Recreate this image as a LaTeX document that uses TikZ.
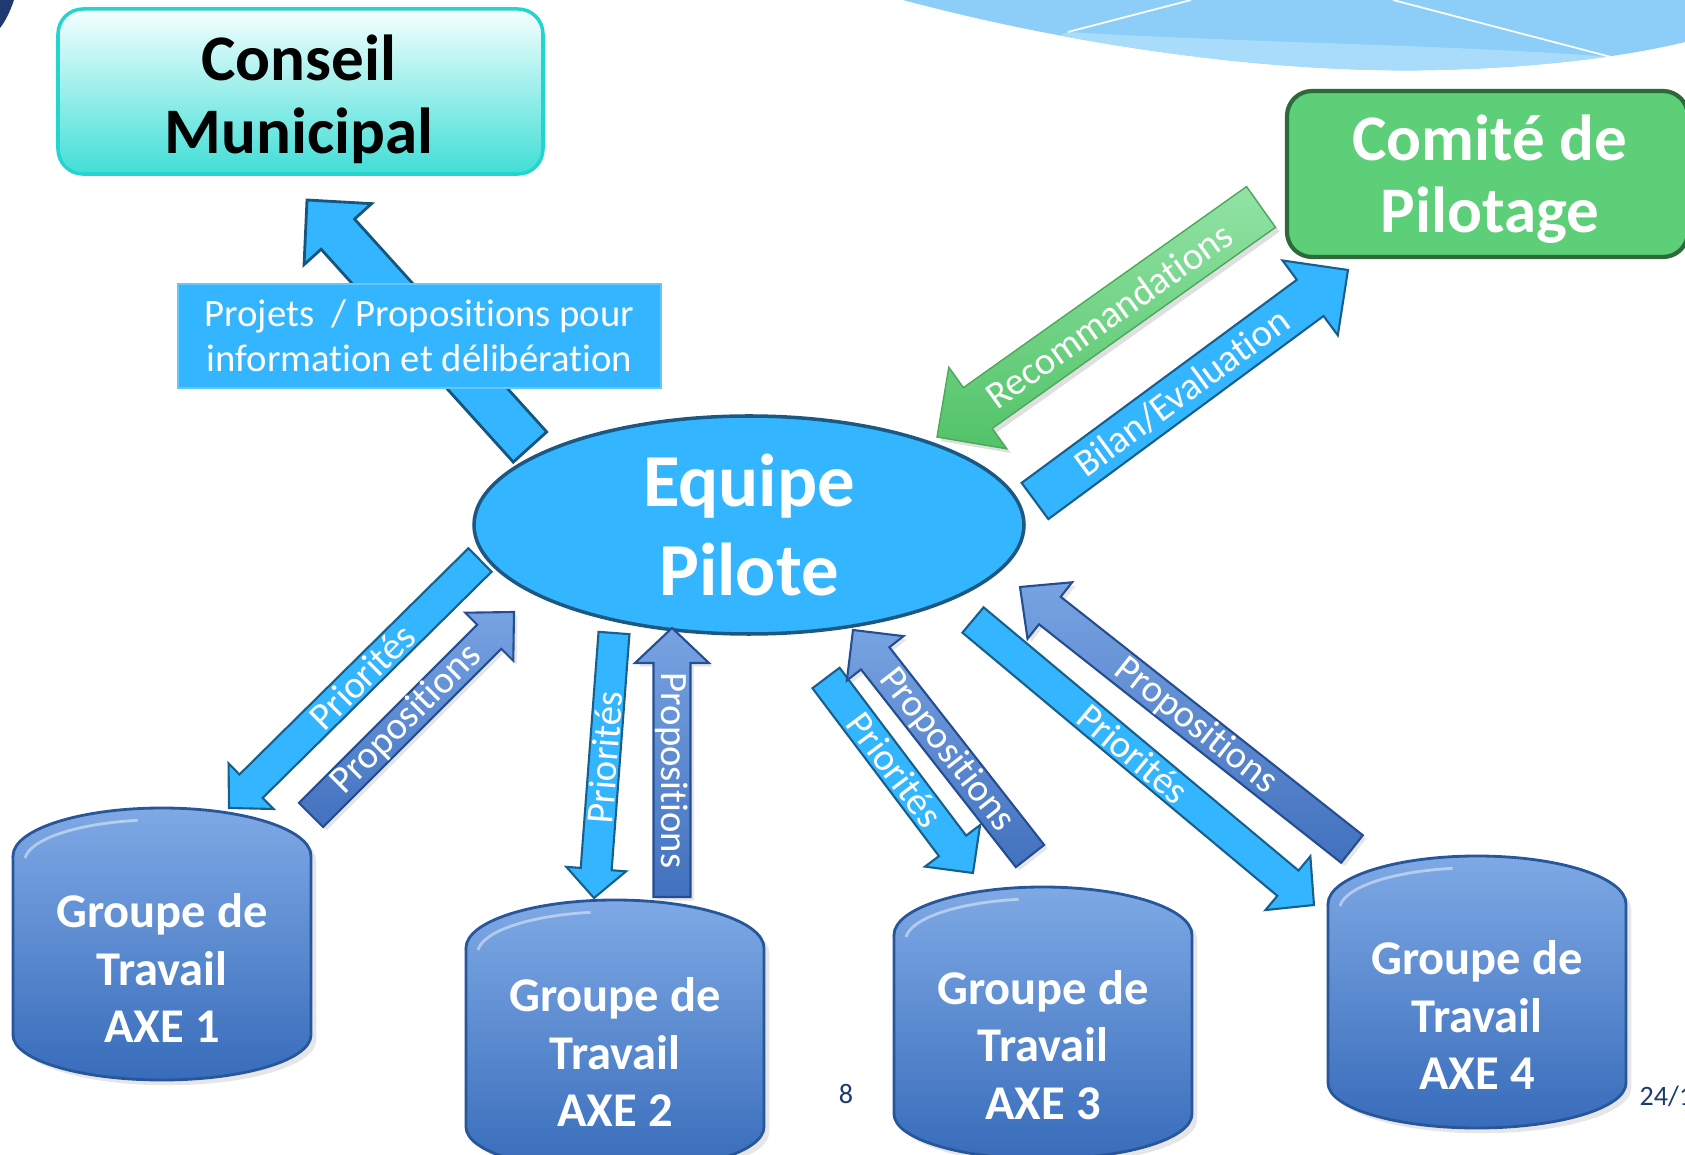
\documentclass[tikz,border=0pt]{standalone}
\usepackage{fontspec}
\setmainfont{Carlito}[Ligatures=NoCommon]
\usetikzlibrary{calc,shapes.geometric,shadows}

\definecolor{skyfill}{RGB}{51,181,255}
\definecolor{skyline}{RGB}{25,95,140}
\definecolor{proptop}{RGB}{120,163,226}
\definecolor{propbot}{RGB}{66,113,190}
\definecolor{propline}{RGB}{36,78,145}
\definecolor{recotop}{RGB}{146,227,165}
\definecolor{recobot}{RGB}{82,195,104}
\definecolor{recoline}{RGB}{78,168,92}
\definecolor{cyltop}{RGB}{126,169,229}
\definecolor{cylbot}{RGB}{56,108,186}
\definecolor{cylline}{RGB}{40,86,155}
\definecolor{cmtop}{RGB}{245,255,255}
\definecolor{cmbot}{RGB}{64,222,214}
\definecolor{cmline}{RGB}{36,212,206}
\definecolor{copfill}{RGB}{93,207,121}
\definecolor{copline}{RGB}{46,105,57}
\definecolor{ellline}{RGB}{28,88,130}
\definecolor{navy}{RGB}{30,58,110}
\definecolor{swoosh}{RGB}{140,206,247}
\definecolor{swooshlight}{RGB}{168,220,250}
\definecolor{labelline}{RGB}{100,200,255}

\begin{document}
\begin{tikzpicture}[
  lightarrow/.style={fill=skyfill, draw=skyline, line width=0.6pt},
  darkarrow/.style={top color=proptop, bottom color=propbot, draw=propline, line width=0.6pt,
    drop shadow={opacity=0.2, shadow xshift=1pt, shadow yshift=-1pt}},
  greenarrow/.style={top color=recotop, bottom color=recobot, draw=recoline, line width=0.4pt,
    drop shadow={opacity=0.25, shadow xshift=1.2pt, shadow yshift=-1.2pt}},
  arrowtext/.style={text=white, font=\fontsize{11}{12}\selectfont, inner sep=0pt},
  cyl/.style={top color=cyltop, bottom color=cylbot, draw=cylline, line width=0.8pt,
    drop shadow={opacity=0.2, shadow xshift=1.5pt, shadow yshift=-1.5pt}},
  grouptext/.style={text=white, align=center, inner sep=0pt, font=\bfseries\fontsize{13.8}{16.3}\selectfont}
]
\useasboundingbox (0,0) rectangle (16.85,-11.55);

% decoration of the slide
\begin{scope}
\clip (9.03,0) .. controls (10.6,-0.42) and (12.6,-0.74) .. (14.36,-0.70) .. controls (15.3,-0.68) and (16.2,-0.58) .. (16.85,-0.42) -- (16.85,0) -- cycle;
\fill[swoosh] (9,0) rectangle (16.85,-1);
\fill[swooshlight] (10.68,-0.32) .. controls (12.3,-0.42) and (14.6,-0.45) .. (16.11,-0.57) -- (16.85,-1) -- (9,-1) -- cycle;
\end{scope}
\draw[white, line width=0.5pt] (10.68,-0.32) -- (11.91,0);
\draw[white, line width=0.5pt] (13.93,0) -- (16.11,-0.57);
\fill[navy] (0,0) -- (0.14,0) .. controls (0.1,-0.12) and (0.05,-0.22) .. (0,-0.28) -- cycle;

% boxes
\node[draw=cmline, top color=cmtop, bottom color=cmbot, line width=1pt, rounded corners=0.25cm,
  minimum width=4.85cm, minimum height=1.65cm] (conseil) at (3.005,-0.915) {};
\node[align=center, inner sep=0pt, font=\bfseries\fontsize{18.5}{20.8}\selectfont] (conseil-t) at (2.99,-0.99) {Conseil\\Municipal};

\node[draw=copline, fill=copfill, line width=1.2pt, rounded corners=0.25cm,
  minimum width=4.01cm, minimum height=1.66cm] (comite) at (14.875,-1.74) {};
\node[align=center, inner sep=0pt, text=white, font=\bfseries\fontsize{18.5}{20.6}\selectfont] (comite-t) at (14.90,-1.79) {Comité de\\Pilotage};

\node[ellipse, fill=skyfill, draw=ellline, line width=1pt, minimum width=5.5cm, minimum height=2.18cm,
  inner sep=0pt, align=center, text=white, font=\bfseries\fontsize{21.3}{25.6}\selectfont] (equipe) at (7.49,-5.25) {Equipe\\Pilote};

% groupes de travail
\foreach \i/\xl/\yt/\ty in {1/0.13/8.08/9.68, 2/4.66/9.00/10.52, 3/8.94/8.87/10.45, 4/13.28/8.56/10.15}{
  \filldraw[cyl] (\xl,-\yt-0.48) -- (\xl,-\yt-2.27) arc[start angle=180, end angle=360, x radius=1.49, y radius=0.45]
    -- (\xl+2.98,-\yt-0.48) arc[start angle=0, end angle=180, x radius=1.49, y radius=0.48] -- cycle;
  \draw[white, opacity=0.45, line width=0.8pt] (\xl+0.12,-\yt-0.5) arc[start angle=175, end angle=100, x radius=1.37, y radius=0.42];
  \node[grouptext] (axe\i) at (\xl+1.49,-\ty) {Groupe de\\Travail\\AXE \i};
}

% arrow ends
\coordinate (proj-a) at (5.30,-4.47);
\coordinate (proj-b) at (3.07,-2.00);
\coordinate (reco-a) at (12.61,-2.07);
\coordinate (reco-b) at (9.37,-4.37);
\coordinate (bilan-a) at (10.35,-5.01);
\coordinate (bilan-b) at (13.48,-2.70);
\coordinate (pri1-a) at (4.80,-5.60);
\coordinate (pri1-b) at (2.29,-8.08);
\coordinate (prop1-a) at (3.11,-8.15);
\coordinate (prop1-b) at (5.14,-6.12);
\coordinate (pri2-a) at (6.14,-6.33);
\coordinate (pri2-b) at (5.94,-8.98);
\coordinate (prop2-a) at (6.72,-8.97);
\coordinate (prop2-b) at (6.72,-6.28);
\coordinate (pri3-a) at (8.26,-6.78);
\coordinate (pri3-b) at (9.73,-8.73);
\coordinate (prop3-a) at (10.30,-8.56);
\coordinate (prop3-b) at (8.53,-6.30);
\coordinate (pri4-a) at (9.73,-6.20);
\coordinate (pri4-b) at (13.14,-9.05);
\coordinate (prop4-a) at (13.52,-8.49);
\coordinate (prop4-b) at (10.20,-5.87);

% arrow to the conseil, under its label
\coordinate (h) at ($(proj-b)!.46cm!(proj-a)$);
\filldraw[lightarrow, draw=skyline!90!black, line width=0.8pt] ($(proj-a)!.225cm!90:(proj-b)$) -- ($(h)!.225cm!90:(proj-b)$) -- ($(h)!.455cm!90:(proj-b)$) -- (proj-b)
  -- ($(h)!.455cm!-90:(proj-b)$) -- ($(h)!.225cm!-90:(proj-b)$) -- ($(proj-a)!.225cm!-90:(proj-b)$) -- cycle;
\node[fill=skyfill, draw=labelline, line width=0.6pt, minimum width=4.83cm, minimum height=1.04cm, align=center,
  text=white, font=\fontsize{11}{12.8}\selectfont] (projets) at (4.195,-3.36) {Projets\ \ / Propositions pour\\information et délibération};

% block arrows
\foreach \n/\sw/\hw/\hl/\sty/\t/\r in {
  reco/.25cm/.50cm/.50cm/greenarrow/Recommandations/0,
  bilan/.225cm/.465cm/.47cm/lightarrow/{Bilan/Evaluation}/0,
  pri1/.165cm/.32cm/.31cm/lightarrow/Priorités/0,
  prop1/.17cm/.34cm/.35cm/darkarrow/Propositions/0,
  pri2/.155cm/.30cm/.29cm/lightarrow/Priorités/0,
  prop2/.185cm/.37cm/.35cm/darkarrow/Propositions/180,
  pri3/.17cm/.345cm/.34cm/lightarrow/Priorités/0,
  prop3/.18cm/.36cm/.36cm/darkarrow/Propositions/0,
  pri4/.165cm/.35cm/.34cm/lightarrow/Priorités/0,
  prop4/.175cm/.36cm/.38cm/darkarrow/Propositions/0}{
  \coordinate (h) at ($(\n-b)!\hl!(\n-a)$);
  \filldraw[\sty] ($(\n-a)!\sw!90:(\n-b)$) -- ($(h)!\sw!90:(\n-b)$) -- ($(h)!\hw!90:(\n-b)$) -- (\n-b)
    -- ($(h)!\hw!-90:(\n-b)$) -- ($(h)!\sw!-90:(\n-b)$) -- ($(\n-a)!\sw!-90:(\n-b)$) -- cycle;
  \path (\n-a) -- (\n-b) node[arrowtext, sloped, pos=0.47, rotate=\r] (\n-t) {\t};
}

% page
\node[text=navy, font=\fontsize{8}{9}\selectfont] (pagenum) at (8.46,-10.94) {8};
\node[text=navy, anchor=west, inner sep=0pt, font=\fontsize{8}{9}\selectfont] (date) at (16.39,-10.96) {24/11};
\end{tikzpicture}
\end{document}
